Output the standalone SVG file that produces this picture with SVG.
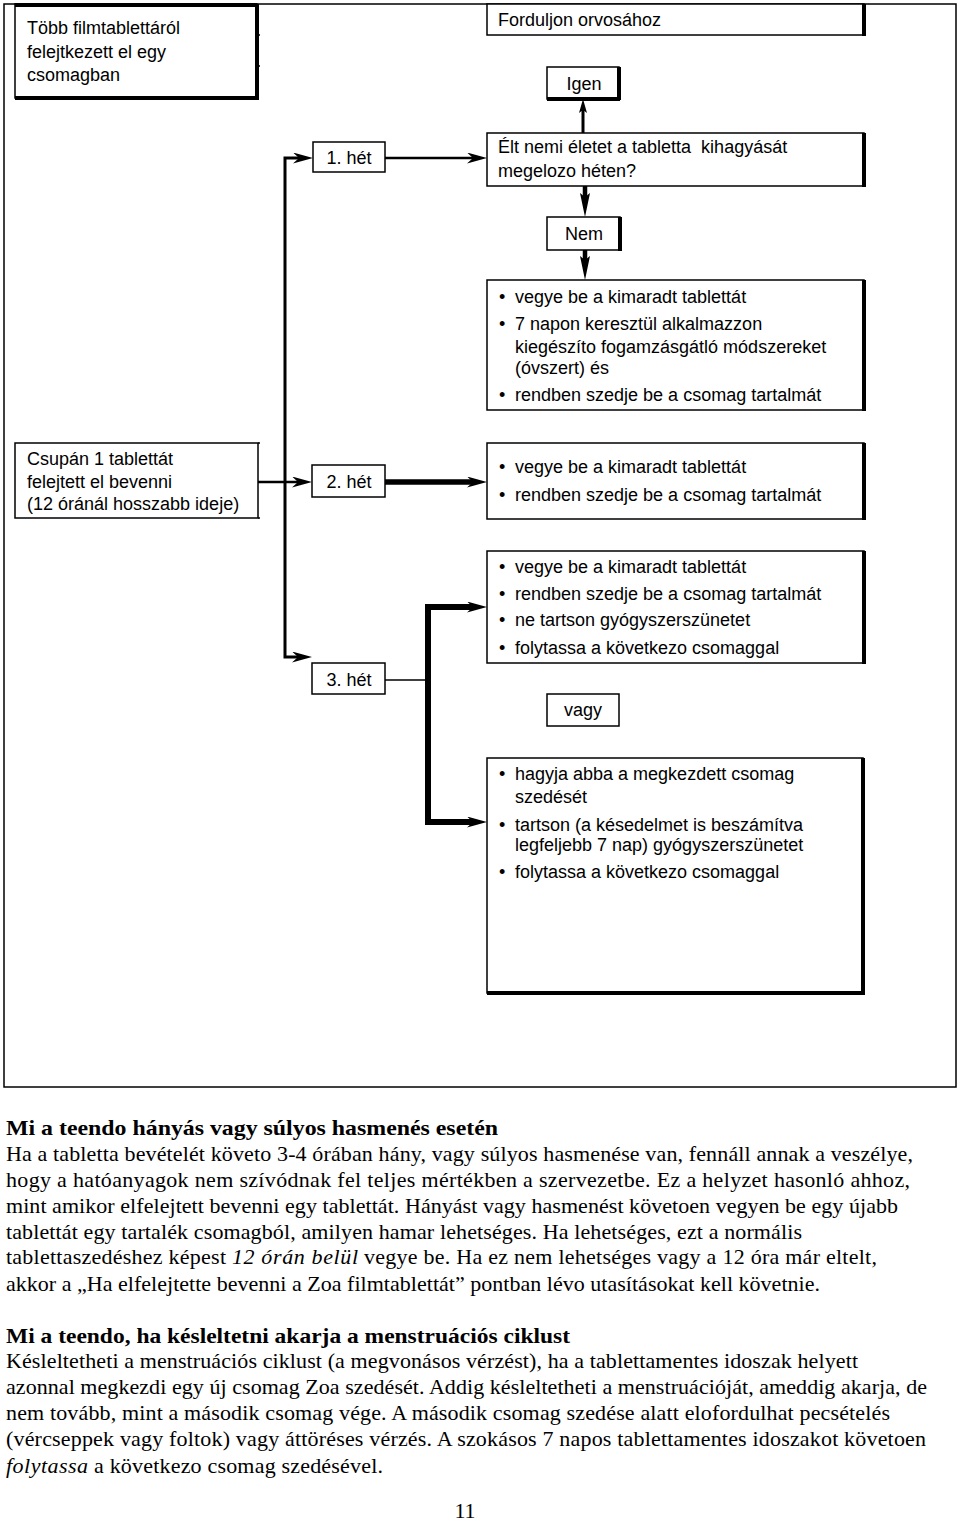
<svg xmlns="http://www.w3.org/2000/svg" width="960" height="1522" viewBox="0 0 960 1522">
<style>
.bx{fill:#fff;stroke:#000;stroke-width:1.5}
.ed{stroke:#000;stroke-width:4;fill:none}
.tk{stroke:#000;stroke-width:1.5;fill:none}
.t{font-family:"Liberation Sans",Arial,sans-serif;font-size:18px;fill:#000}
.m{text-anchor:middle}
.s{font-family:"Liberation Serif","Times New Roman",serif;font-size:22px;fill:#000}
.b{font-weight:bold}
.i{font-style:italic}
.c{stroke:#000;fill:none;stroke-linejoin:miter}
</style>
<defs>
<marker id="ah" viewBox="0 0 20 11" refX="6" refY="5.5" markerWidth="20" markerHeight="11" markerUnits="userSpaceOnUse" orient="auto"><path d="M0,0 L20,5.5 L0,11 L6,5.5 z" fill="#000"/></marker>
<marker id="av" viewBox="0 0 14 8" refX="3" refY="4" markerWidth="14" markerHeight="8" markerUnits="userSpaceOnUse" orient="auto"><path d="M0,0 L14,4 L0,8 L3,4 z" fill="#000"/></marker>
<marker id="av2" viewBox="0 0 24 10" refX="4" refY="5" markerWidth="24" markerHeight="10" markerUnits="userSpaceOnUse" orient="auto"><path d="M0,0 L24,5 L0,10 L4,5 z" fill="#000"/></marker>
</defs>
<rect x="0" y="0" width="960" height="1522" fill="#fff"/>
<rect id="frame" x="4" y="4" width="952" height="1083" class="bx"/>

<g id="connectors">
<path class="c" stroke-width="2.5" d="M385,158 H473" marker-end="url(#ah)"/>
<path class="c" stroke-width="3" d="M285,400 V158 H299" marker-end="url(#ah)"/>
<path class="c" stroke-width="3" d="M285,400 V657 H298" marker-end="url(#ah)"/>
<path class="c" stroke-width="2.5" d="M258,482 H298" marker-end="url(#ah)"/>
<path class="c" stroke-width="5.5" d="M385,482 H473" marker-end="url(#ah)"/>
<path class="c" stroke-width="3" d="M583,133 V110" marker-end="url(#av)"/>
<path class="c" stroke-width="4.5" d="M585,186 V197" marker-end="url(#av2)"/>
<path class="c" stroke-width="4.5" d="M585,250 V260" marker-end="url(#av2)"/>
<path class="c" stroke-width="1.5" d="M385,680 H428"/>
<path class="c" stroke-width="6" d="M428,683 V607 H473" marker-end="url(#ah)"/>
<path class="c" stroke-width="6" d="M428,677 V822 H473" marker-end="url(#ah)"/>
</g>

<g id="n-tobb">
<rect x="15" y="4" width="242" height="94" class="bx"/>
<path class="ed" stroke-width="3" d="M15,5 H257 M257,4 V98 M15,98 H259"/>
<path class="tk" d="M257,35 H260 M257,66 H260"/>
<text class="t" x="27" y="34">Több filmtablettáról</text>
<text class="t" x="27" y="58">felejtkezett el egy</text>
<text class="t" x="27" y="81">csomagban</text>
</g>

<g id="n-fordul">
<rect x="487" y="4" width="377" height="31" class="bx"/>
<path class="ed" d="M864,4 V36"/>
<text class="t" x="498" y="26">Forduljon orvosához</text>
</g>

<g id="n-igen">
<rect x="547" y="67" width="72" height="32" class="bx"/>
<path class="ed" stroke-width="3" d="M619,67 V100 M547,99 H620"/>
<text class="t m" x="584" y="90">Igen</text>
</g>

<g id="n-het1">
<rect x="313" y="142" width="72" height="30" class="bx"/>
<text class="t m" x="349" y="164">1. hét</text>
</g>

<g id="n-elt">
<rect x="487" y="133" width="377" height="53" class="bx"/>
<path class="ed" d="M864,133 V187"/>
<text class="t" x="498" y="153" xml:space="preserve">Élt nemi életet a tabletta  kihagyását</text>
<text class="t" x="498" y="177">megelozo héten?</text>
</g>

<g id="n-nem">
<rect x="547" y="217" width="73" height="33" class="bx"/>
<path class="ed" stroke-width="3" d="M620,217 V251"/>
<text class="t m" x="584" y="240">Nem</text>
</g>

<g id="n-box1">
<rect x="487" y="280" width="377" height="130" class="bx"/>
<path class="ed" d="M864,280 V411"/>
<text class="t" x="499" y="303">•</text>
<text class="t" x="515" y="303">vegye be a kimaradt tablettát</text>
<text class="t" x="499" y="330">•</text>
<text class="t" x="515" y="330">7 napon keresztül alkalmazzon</text>
<text class="t" x="515" y="353">kiegészíto fogamzásgátló módszereket</text>
<text class="t" x="515" y="374">(óvszert) és</text>
<text class="t" x="499" y="401">•</text>
<text class="t" x="515" y="401">rendben szedje be a csomag tartalmát</text>
</g>

<g id="n-csupan">
<rect x="15" y="443" width="243" height="75" class="bx"/>
<path class="tk" d="M258,443 H260 M258,518 H260"/>
<text class="t" x="27" y="465">Csupán 1 tablettát</text>
<text class="t" x="27" y="488">felejtett el bevenni</text>
<text class="t" x="27" y="510">(12 óránál hosszabb ideje)</text>
</g>

<g id="n-het2">
<rect x="312" y="465" width="73" height="32" class="bx"/>
<text class="t m" x="349" y="488">2. hét</text>
</g>

<g id="n-box2">
<rect x="487" y="443" width="377" height="76" class="bx"/>
<path class="ed" d="M864,443 V520"/>
<text class="t" x="499" y="473">•</text>
<text class="t" x="515" y="473">vegye be a kimaradt tablettát</text>
<text class="t" x="499" y="501">•</text>
<text class="t" x="515" y="501">rendben szedje be a csomag tartalmát</text>
</g>

<g id="n-box3">
<rect x="487" y="551" width="377" height="112" class="bx"/>
<path class="ed" d="M864,551 V664"/>
<text class="t" x="499" y="573">•</text>
<text class="t" x="515" y="573">vegye be a kimaradt tablettát</text>
<text class="t" x="499" y="600">•</text>
<text class="t" x="515" y="600">rendben szedje be a csomag tartalmát</text>
<text class="t" x="499" y="626">•</text>
<text class="t" x="515" y="626">ne tartson gyógyszerszünetet</text>
<text class="t" x="499" y="654">•</text>
<text class="t" x="515" y="654">folytassa a következo csomaggal</text>
</g>

<g id="n-het3">
<rect x="312" y="663" width="73" height="31" class="bx"/>
<text class="t m" x="349" y="686">3. hét</text>
</g>

<g id="n-vagy">
<rect x="547" y="694" width="72" height="32" class="bx"/>
<text class="t m" x="583" y="716">vagy</text>
</g>

<g id="n-box4">
<rect x="487" y="758" width="376" height="235" class="bx"/>
<path class="ed" d="M863,758 V994 M487,993 H865"/>
<text class="t" x="499" y="780">•</text>
<text class="t" x="515" y="780">hagyja abba a megkezdett csomag</text>
<text class="t" x="515" y="803">szedését</text>
<text class="t" x="499" y="831">•</text>
<text class="t" x="515" y="831">tartson (a késedelmet is beszámítva</text>
<text class="t" x="515" y="851">legfeljebb 7 nap) gyógyszerszünetet</text>
<text class="t" x="499" y="878">•</text>
<text class="t" x="515" y="878">folytassa a következo csomaggal</text>
</g>

<g id="text1">
<text class="s b" x="6" y="1135" textLength="492" lengthAdjust="spacingAndGlyphs">Mi a teendo hányás vagy súlyos hasmenés esetén</text>
<text class="s" x="6" y="1161" textLength="907">Ha a tabletta bevételét követo 3-4 órában hány, vagy súlyos hasmenése van, fennáll annak a veszélye,</text>
<text class="s" x="6" y="1187" textLength="904">hogy a hatóanyagok nem szívódnak fel teljes mértékben a szervezetbe. Ez a helyzet hasonló ahhoz,</text>
<text class="s" x="6" y="1213" textLength="892">mint amikor elfelejtett bevenni egy tablettát. Hányást vagy hasmenést követoen vegyen be egy újabb</text>
<text class="s" x="6" y="1239" textLength="796">tablettát egy tartalék csomagból, amilyen hamar lehetséges. Ha lehetséges, ezt a normális</text>
<text class="s" x="6" y="1264" textLength="220">tablettaszedéshez képest</text>
<text class="s i" x="232" y="1264" textLength="126">12 órán belül</text>
<text class="s" x="364" y="1264" textLength="513">vegye be. Ha ez nem lehetséges vagy a 12 óra már eltelt,</text>
<text class="s" x="6" y="1291" textLength="814">akkor a „Ha elfelejtette bevenni a Zoa filmtablettát” pontban lévo utasításokat kell követnie.</text>
</g>

<g id="text2">
<text class="s b" x="6" y="1343" textLength="564" lengthAdjust="spacingAndGlyphs">Mi a teendo, ha késleltetni akarja a menstruációs ciklust</text>
<text class="s" x="6" y="1368" textLength="852">Késleltetheti a menstruációs ciklust (a megvonásos vérzést), ha a tablettamentes idoszak helyett</text>
<text class="s" x="6" y="1394" textLength="921">azonnal megkezdi egy új csomag Zoa szedését. Addig késleltetheti a menstruációját, ameddig akarja, de</text>
<text class="s" x="6" y="1420" textLength="884">nem tovább, mint a második csomag vége. A második csomag szedése alatt elofordulhat pecsételés</text>
<text class="s" x="6" y="1446" textLength="920">(vércseppek vagy foltok) vagy áttöréses vérzés. A szokásos 7 napos tablettamentes idoszakot követoen</text>
<text class="s i" x="6" y="1473" textLength="82">folytassa</text>
<text class="s" x="94" y="1473" textLength="289">a következo csomag szedésével.</text>
</g>

<text class="s" x="465" y="1518" text-anchor="middle">11</text>
</svg>
